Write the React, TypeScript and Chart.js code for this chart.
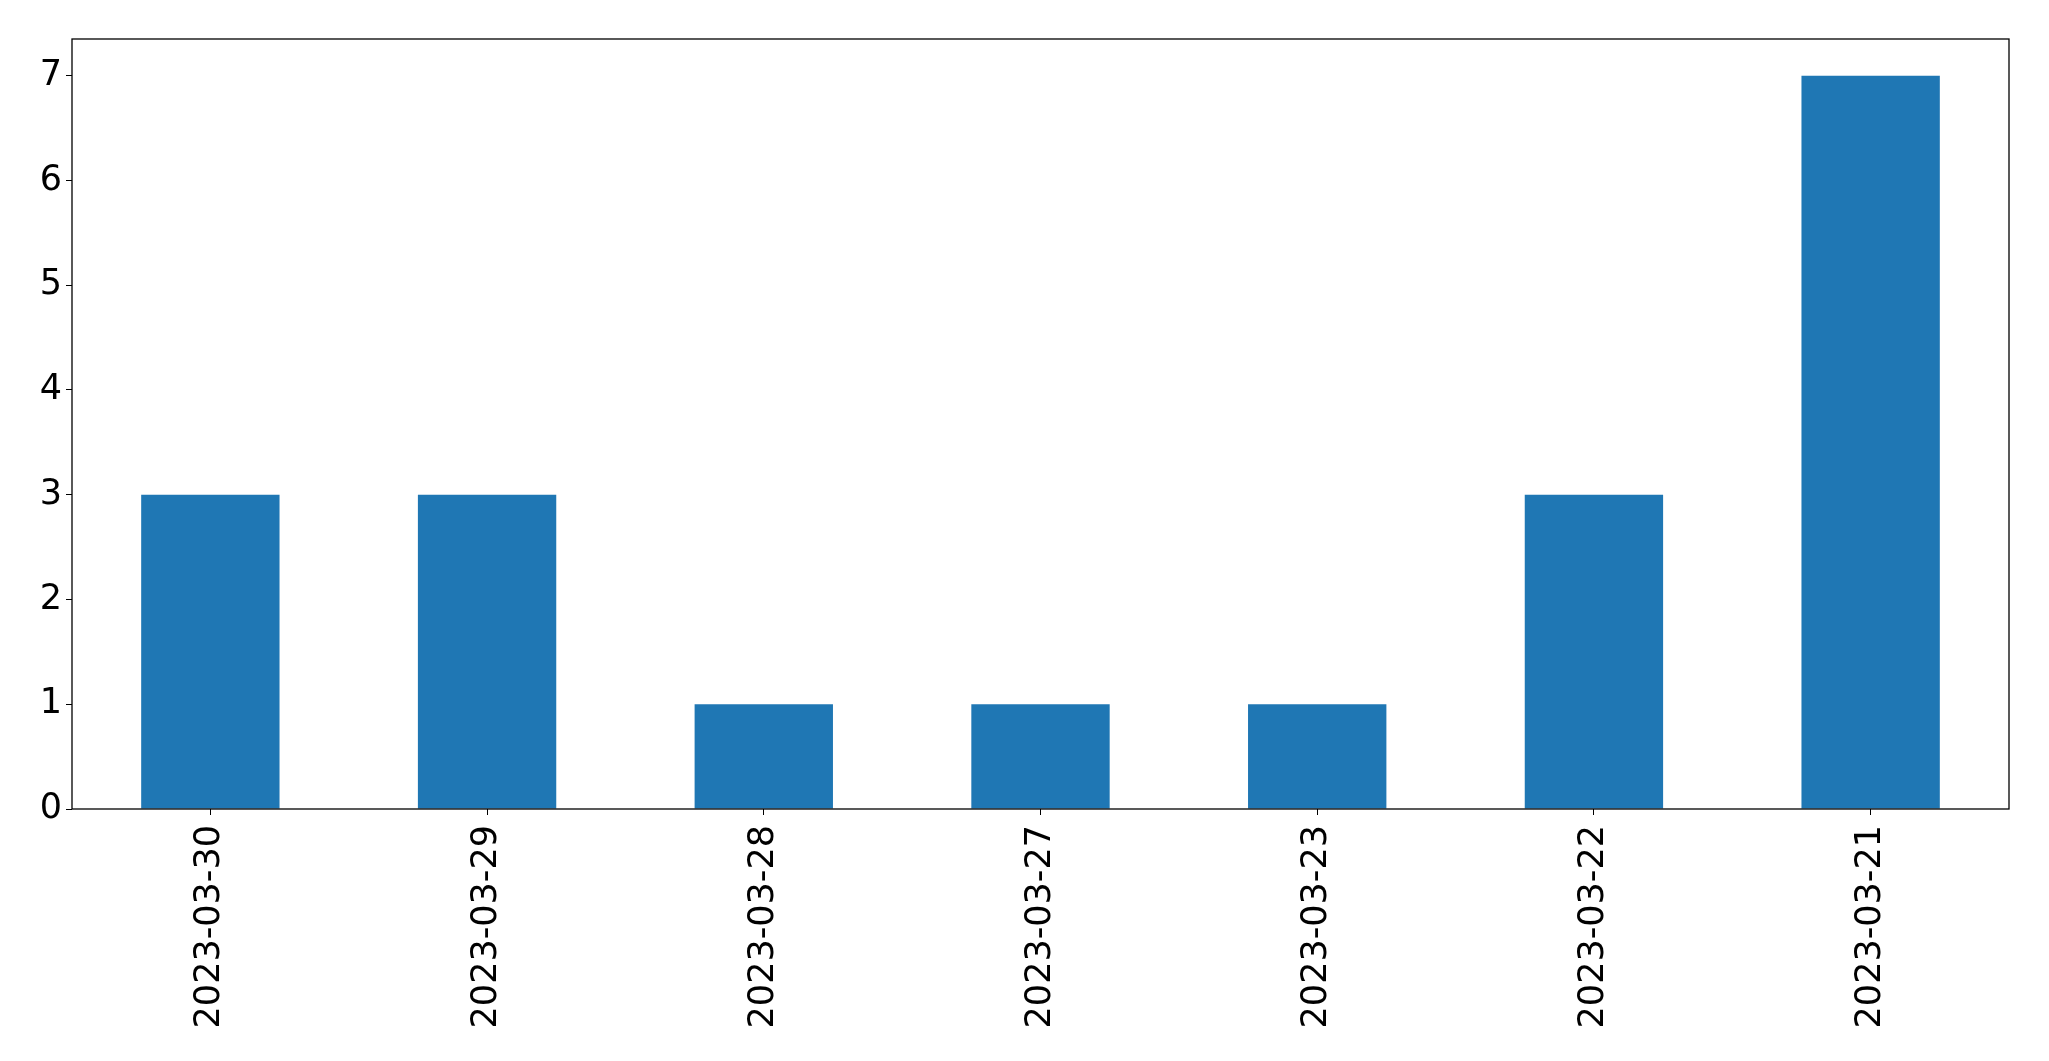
import React, { useEffect, useRef } from "react";
import { Chart, registerables } from "chart.js";

Chart.register(...registerables);

const categories = ["2023-03-30", "2023-03-29", "2023-03-28", "2023-03-27", "2023-03-23", "2023-03-22", "2023-03-21"];
const counts = [3, 3, 1, 1, 1, 3, 7];
const yTicks = [0, 1, 2, 3, 4, 5, 6, 7];
const yMin = 0;
const yMax = 7.35;

const frame = {
  id: "frame",
  afterDraw(chart: any) {
    const { ctx, chartArea } = chart;
    ctx.save();
    ctx.strokeStyle = "#000";
    ctx.lineWidth = 1.3;
    ctx.strokeRect(chartArea.left, chartArea.top, chartArea.right - chartArea.left, chartArea.bottom - chartArea.top);
    ctx.restore();
  },
};

export default function App() {
  const ref = useRef<HTMLCanvasElement | null>(null);
  useEffect(() => {
    if (!ref.current) return;
    const font = { family: "DejaVu Sans", size: 35 };
    const chart = new Chart(ref.current, {
      type: "bar",
      data: {
        labels: categories,
        datasets: [
          {
            data: counts,
            backgroundColor: "#1f77b4",
            barPercentage: 0.5,
            categoryPercentage: 1,
          },
        ],
      },
      options: {
        animation: false,
        responsive: false,
        maintainAspectRatio: false,
        layout: { padding: { left: 0, top: 39, right: 40, bottom: 0 } },
        plugins: { legend: { display: false }, tooltip: { enabled: false } },
        scales: {
          x: {
            offset: true,
            grid: { display: true, drawOnChartArea: false, drawTicks: true, tickLength: 6, color: "#000", offset: false },
            border: { display: false },
            ticks: { color: "#000", font, minRotation: 90, maxRotation: 90, padding: 10, autoSkip: false },
            afterFit(scale: any) {
              scale.height = 252;
            },
          },
          y: {
            min: yMin,
            max: yMax,
            grid: { display: true, drawOnChartArea: false, drawTicks: true, tickLength: 6, color: "#000" },
            border: { display: false },
            ticks: { color: "#000", font, padding: 4, autoSkip: false },
            afterBuildTicks(scale: any) {
              scale.ticks = yTicks.map((v) => ({ value: v }));
            },
            afterFit(scale: any) {
              scale.width = 72;
            },
          },
        },
      },
      plugins: [frame],
    });
    return () => chart.destroy();
  }, []);
  return (
    <canvas
      ref={ref}
      width={2049}
      height={1061}
      style={{ position: "fixed", left: 0, top: 0, width: 2049, height: 1061, background: "#fff" }}
    />
  );
}
